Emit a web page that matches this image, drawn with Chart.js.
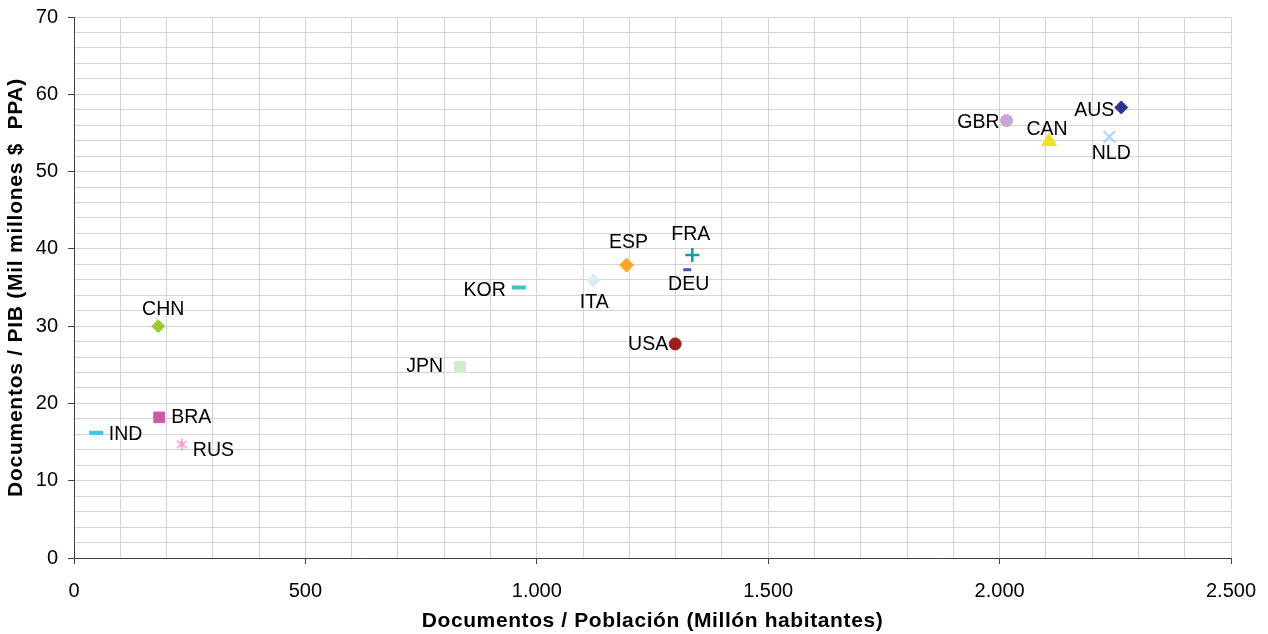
<!DOCTYPE html>
<html lang="es">
<head>
<meta charset="utf-8">
<title>Documentos por población y por PIB</title>
<script src="https://cdn.jsdelivr.net/npm/chart.js@4.4.1/dist/chart.umd.min.js"></script>
<style>
  html, body { margin: 0; padding: 0; background: #ffffff; }
  #wrap { width: 1268px; height: 634px; }
</style>
</head>
<body>
<div id="wrap"><canvas id="chart" width="1268" height="634"></canvas></div>
<script>
// Countries and their two ratios
const countries = ['IND', 'BRA', 'RUS', 'CHN', 'JPN', 'KOR', 'ITA', 'ESP', 'FRA', 'DEU', 'USA', 'GBR', 'CAN', 'AUS', 'NLD'];
const docsPerPopulation = [48, 184, 233, 182, 834, 961, 1122, 1194, 1336, 1325, 1299, 2015, 2107, 2263, 2237];
const docsPerGdp = [16.2, 18.2, 14.7, 30.0, 24.7, 35.0, 35.9, 37.9, 39.2, 37.3, 27.7, 56.6, 53.9, 58.3, 54.5];

// Axis ranges and labelled tick values
const xRange = [0, 2500];
const yRange = [0, 70];
const xLabelledTicks = [0, 500, 1000, 1500, 2000, 2500];
const yLabelledTicks = [0, 10, 20, 30, 40, 50, 60, 70];

const FONT = "'Liberation Sans', Arial, Helvetica, sans-serif";

// Asterisk marker (vertical bar + two diagonals)
function asteriskMarker(color) {
  const c = document.createElement('canvas');
  c.width = 14; c.height = 14;
  const g = c.getContext('2d');
  g.strokeStyle = color;
  g.lineWidth = 1.8;
  g.beginPath();
  g.moveTo(7, 1); g.lineTo(7, 13);
  g.moveTo(2, 3.5); g.lineTo(12, 10.5);
  g.moveTo(2, 10.5); g.lineTo(12, 3.5);
  g.stroke();
  return c;
}

// Marker look for each country
const markerStyle = {
  IND: { style: 'line',     color: '#33C8EE', radius: 7,   width: 4 },
  BRA: { style: 'rect',     color: '#CC5AAA', radius: 7.5, width: 1 },
  RUS: { style: asteriskMarker('#F5A3C7'), color: '#F5A3C7', radius: 7, width: 1 },
  CHN: { style: 'rectRot',  color: '#99CC33', radius: 6.5, width: 1 },
  JPN: { style: 'rect',     color: '#D4EAD0', radius: 8,   width: 1 },
  KOR: { style: 'line',     color: '#40BFBF', radius: 7,   width: 4 },
  ITA: { style: 'rectRot',  color: '#D5EEF7', radius: 6.5, width: 1 },
  ESP: { style: 'rectRot',  color: '#FFA42A', radius: 7,   width: 1 },
  FRA: { style: 'cross',    color: '#139C98', radius: 7,   width: 2.5 },
  DEU: { style: 'line',     color: '#4556A8', radius: 4,   width: 3 },
  USA: { style: 'circle',   color: '#A01C1C', radius: 6,   width: 1 },
  GBR: { style: 'circle',   color: '#C9A5D1', radius: 6,   width: 1 },
  CAN: { style: 'triangle', color: '#EEE420', radius: 8.5, width: 1 },
  AUS: { style: 'rectRot',  color: '#2E3090', radius: 6.5, width: 1 },
  NLD: { style: 'crossRot', color: '#A8D3F2', radius: 8,   width: 2 }
};

// Where each country label sits relative to its marker
const labelPlacement = {
  IND: { dx: 12.5, dy: 2,   align: 'left' },
  BRA: { dx: 12,   dy: 0,   align: 'left' },
  RUS: { dx: 11,   dy: 6,   align: 'left' },
  CHN: { dx: 5,    dy: -17, align: 'center' },
  JPN: { dx: -17,  dy: 0,   align: 'right' },
  KOR: { dx: -13,  dy: 3,   align: 'right' },
  ITA: { dx: 1,    dy: 22,  align: 'center' },
  ESP: { dx: 2,    dy: -22, align: 'center' },
  FRA: { dx: -1.5, dy: -20, align: 'center' },
  DEU: { dx: 1.5,  dy: 15,  align: 'center' },
  USA: { dx: -7,   dy: 1,   align: 'right' },
  GBR: { dx: -7,   dy: 2.5, align: 'right' },
  CAN: { dx: -2,   dy: -12, align: 'center' },
  AUS: { dx: -7,   dy: 3.5, align: 'right' },
  NLD: { dx: 2,    dy: 17,  align: 'center' }
};

const datasets = countries.map((name, i) => {
  const m = markerStyle[name];
  return {
    label: name,
    data: [{ x: docsPerPopulation[i], y: docsPerGdp[i] }],
    pointStyle: m.style,
    pointRadius: m.radius,
    pointHoverRadius: m.radius,
    pointBackgroundColor: m.color,
    pointBorderColor: m.color,
    pointBorderWidth: m.width,
    showLine: false
  };
});

// Country names drawn next to their markers
const countryLabels = {
  id: 'countryLabels',
  afterDatasetsDraw(chart) {
    const ctx = chart.ctx;
    ctx.save();
    ctx.font = '19.5px ' + FONT;
    ctx.fillStyle = '#000000';
    ctx.textBaseline = 'middle';
    chart.data.datasets.forEach((ds, i) => {
      const pt = chart.getDatasetMeta(i).data[0];
      const p = labelPlacement[ds.label];
      ctx.textAlign = p.align;
      ctx.fillText(ds.label, pt.x + p.dx, pt.y + p.dy);
    });
    ctx.restore();
  }
};

// Slightly spaced-out lettering for the axis titles
const titleSpacing = { x: '0.6px', y: '0.75px' };
const spacedTitles = {
  id: 'spacedTitles',
  beforeDraw(chart) {
    Object.values(chart.scales).forEach(scale => {
      if (scale._spacedTitle) return;
      const original = scale.drawTitle.bind(scale);
      scale.drawTitle = function () {
        const ctx = this.ctx;
        ctx.save();
        ctx.letterSpacing = titleSpacing[this.axis] || '0px';
        original();
        ctx.restore();
      };
      scale._spacedTitle = true;
    });
  }
};

function formatThousands(v) {
  return String(v).replace(/\B(?=(\d{3})+(?!\d))/g, '.');
}

const gridColor = '#D4D4D4';
const axisColor = '#404040';

new Chart(document.getElementById('chart'), {
  type: 'scatter',
  data: { datasets },
  plugins: [countryLabels, spacedTitles],
  options: {
    responsive: false,
    animation: false,
    devicePixelRatio: 1,
    layout: { autoPadding: false, padding: { top: 17, right: 37, left: 0, bottom: 0 } },
    plugins: {
      legend: { display: false },
      tooltip: { enabled: false }
    },
    scales: {
      x: {
        type: 'linear',
        position: 'bottom',
        min: xRange[0],
        max: xRange[1],
        afterFit: s => { s.height = 76; s.paddingLeft = 0; s.paddingRight = 0; },
        ticks: {
          stepSize: 100,
          autoSkip: false,
          maxRotation: 0,
          padding: 15,
          color: '#000000',
          font: { family: FONT, size: 20 },
          callback: v => xLabelledTicks.includes(v) ? formatThousands(v) : ''
        },
        grid: {
          color: gridColor,
          lineWidth: 1,
          tickLength: 6,
          tickColor: c => (c.tick && xLabelledTicks.includes(c.tick.value)) ? axisColor : 'rgba(0,0,0,0)'
        },
        border: { color: axisColor, width: 1 },
        title: {
          display: true,
          text: 'Documentos / Población (Millón habitantes)',
          color: '#000000',
          font: { family: FONT, size: 21, weight: 'bold' },
          padding: { top: 0, bottom: 0 }
        }
      },
      y: {
        type: 'linear',
        position: 'left',
        min: yRange[0],
        max: yRange[1],
        afterFit: s => { s.width = 74; s.paddingTop = 0; s.paddingBottom = 0; },
        ticks: {
          stepSize: 2,
          autoSkip: false,
          padding: 10,
          color: '#000000',
          font: { family: FONT, size: 20 },
          callback: v => yLabelledTicks.includes(v) ? String(v) : ''
        },
        grid: {
          color: gridColor,
          lineWidth: 1,
          tickLength: 6,
          tickColor: c => (c.tick && yLabelledTicks.includes(c.tick.value)) ? axisColor : 'rgba(0,0,0,0)'
        },
        border: { color: axisColor, width: 1 },
        title: {
          display: true,
          text: 'Documentos / PIB (Mil millones $  PPA)',
          color: '#000000',
          font: { family: FONT, size: 21, weight: 'bold' },
          padding: { top: 4, bottom: 0 }
        }
      }
    }
  }
});
</script>
</body>
</html>
